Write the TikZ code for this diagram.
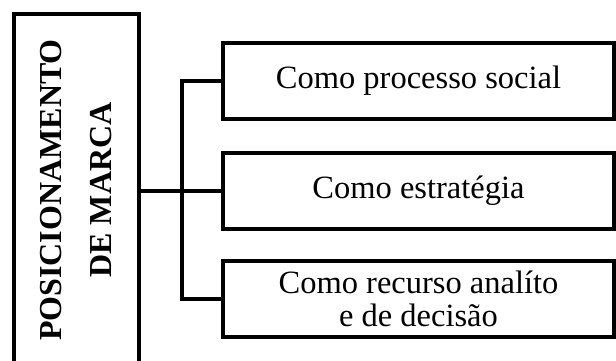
\documentclass[tikz,border=0pt]{standalone}
\usepackage{fontspec}
\setmainfont{Liberation Serif}
\tikzset{
	mainbox/.style={draw, line width=4.5pt, rotate=90, minimum width=352pt, minimum height=125pt, inner sep=0pt, align=center, font=\bfseries\fontsize{32}{50}\selectfont},
	itembox/.style={draw, line width=4.5pt, minimum width=391pt, minimum height=76pt, inner sep=0pt, align=center, font=\fontsize{32.5}{33}\selectfont},
	link/.style={line width=4.5pt}
}
\begin{document}
	\begin{tikzpicture}[x=1pt, y=-1pt]
		\useasboundingbox (0, 0) rectangle (616, 361);
		\node[mainbox] (marca) at (76.5, 190) {POSICIONAMENTO\\DE MARCA};
		
		\node[itembox] (social) at (418.5, 81) {Como processo social};
		\node[itembox] (estrategia) at (418.5, 191) {Como estratégia};
		\node[itembox] (recurso) at (418.5, 299) {Como recurso analíto\\e de decisão};
		
		\coordinate (junc) at (182, 191);
		\draw[link] (marca.south |- junc) -- (estrategia.west);
		\draw[link] (social.west) -| (junc) |- (recurso.west);
	\end{tikzpicture}
\end{document}
